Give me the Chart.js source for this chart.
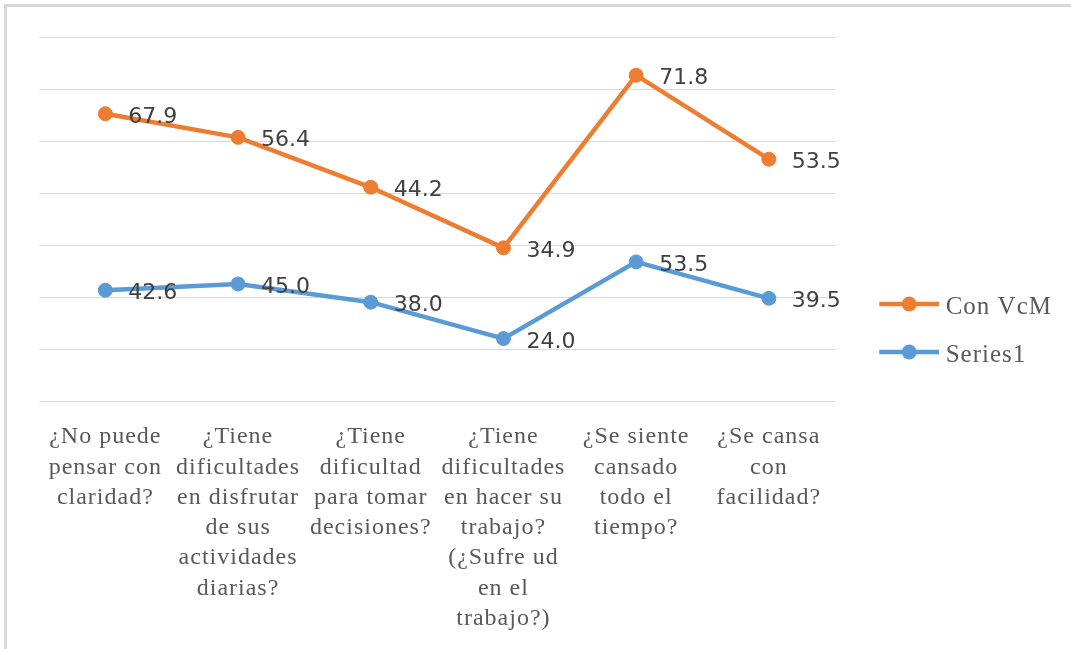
<!DOCTYPE html>
<html><head><meta charset="utf-8">
<script src="https://cdn.jsdelivr.net/npm/chart.js@4"></script>
<style>
html,body{margin:0;padding:0;background:#fff;overflow:hidden;width:1071px;height:649px}
#frame{position:absolute;left:4px;top:4px;width:1100px;height:700px;border-top:3px solid #d9d9d9;border-left:3px solid #d9d9d9;box-sizing:border-box}
#wrap{position:absolute;left:0;top:0;width:1071px;height:649px}
</style></head><body>
<div id="frame"></div>
<div id="wrap"><canvas id="c" width="1071" height="649"></canvas></div>
<script>
const categories = [
  ['¿No puede','pensar con','claridad?'],
  ['¿Tiene','dificultades','en disfrutar','de sus','actividades','diarias?'],
  ['¿Tiene','dificultad','para tomar','decisiones?'],
  ['¿Tiene','dificultades','en hacer su','trabajo?','(¿Sufre ud','en el','trabajo?)'],
  ['¿Se siente','cansado','todo el','tiempo?'],
  ['¿Se cansa','con','facilidad?']
];
const seriesNames = ['Series1', 'Con VcM'];
const series1Values = [42.6, 45.0, 38.0, 24.0, 53.5, 39.5];
const conVcMValues = [67.9, 56.4, 44.2, 34.9, 71.8, 53.5];
const yMin = 0, yMax = 140, yStep = 20;

const ORANGE = '#ED7D31', BLUE = '#5B9BD5';

function legendIcon(color){
  const c = document.createElement('canvas');
  c.width = 87; c.height = 22;
  const g = c.getContext('2d');
  g.strokeStyle = color; g.lineWidth = 4.5;
  g.beginPath(); g.moveTo(27, 8); g.lineTo(87, 8); g.stroke();
  g.fillStyle = color;
  g.beginPath(); g.arc(57, 8, 7.5, 0, Math.PI*2); g.fill();
  return c;
}
const icons = [legendIcon(BLUE), legendIcon(ORANGE)];

const spacingPlugin = {
  id: 'spacing',
  beforeUpdate(chart){ chart.ctx.letterSpacing = '1px'; },
  afterLayout(chart){
    if (chart.legend) { chart.legend.top -= 12; chart.legend.bottom -= 12; }
  },
  beforeDraw(chart){ chart.ctx.letterSpacing = '1px'; }
};

const valueLabels = {
  id: 'valueLabels',
  afterDatasetsDraw(chart){
    const ctx = chart.ctx;
    ctx.save();
    ctx.letterSpacing = '0px';
    ctx.font = '22px "DejaVu Sans"';
    ctx.fillStyle = '#404040';
    ctx.textAlign = 'left';
    ctx.textBaseline = 'alphabetic';
    chart.data.datasets.forEach((ds, i) => {
      const meta = chart.getDatasetMeta(i);
      meta.data.forEach((pt, j) => {
        ctx.fillText(ds.data[j].toFixed(1), pt.x + 23, pt.y + 9);
      });
    });
    ctx.restore();
  }
};

new Chart(document.getElementById('c'), {
  type: 'line',
  data: {
    labels: categories,
    datasets: [
      { label: seriesNames[0], data: series1Values, borderColor: BLUE, backgroundColor: BLUE,
        borderWidth: 4.5, pointRadius: 7, pointBorderWidth: 1, pointBackgroundColor: BLUE, pointBorderColor: BLUE, tension: 0, fill: false },
      { label: seriesNames[1], data: conVcMValues, borderColor: ORANGE, backgroundColor: ORANGE,
        borderWidth: 4.5, pointRadius: 7, pointBorderWidth: 1, pointBackgroundColor: ORANGE, pointBorderColor: ORANGE, tension: 0, fill: false }
    ]
  },
  options: {
    responsive: false,
    animation: false,
    devicePixelRatio: 1,
    layout: { padding: { left: 39, top: 37, right: 9, bottom: 0 } },
    scales: {
      x: {
        offset: true,
        grid: { display: false, drawTicks: false },
        border: { display: false },
        ticks: {
          autoSkip: false, maxRotation: 0, minRotation: 0, padding: 21,
          color: '#595959',
          font: { family: '"Liberation Serif"', size: 24, lineHeight: 1.26 }
        },
        afterFit(scale){ scale.height = 248; }
      },
      y: {
        stacked: true,
        min: yMin, max: yMax,
        grid: { color: '#d9d9d9', lineWidth: 1, drawTicks: false },
        border: { display: false },
        ticks: { display: false, stepSize: yStep }
      }
    },
    plugins: {
      tooltip: { enabled: false },
      legend: {
        position: 'right',
        reverse: true,
        labels: {
          usePointStyle: true,
          pointStyleWidth: 75,
          padding: 23,
          color: '#595959',
          font: { family: '"Liberation Serif"', size: 25 },
          generateLabels(chart){
            const items = Chart.defaults.plugins.legend.labels.generateLabels(chart);
            items.forEach(it => { it.pointStyle = icons[it.datasetIndex]; });
            return items;
          }
        }
      }
    }
  },
  plugins: [spacingPlugin, valueLabels]
});
</script>
</body></html>
